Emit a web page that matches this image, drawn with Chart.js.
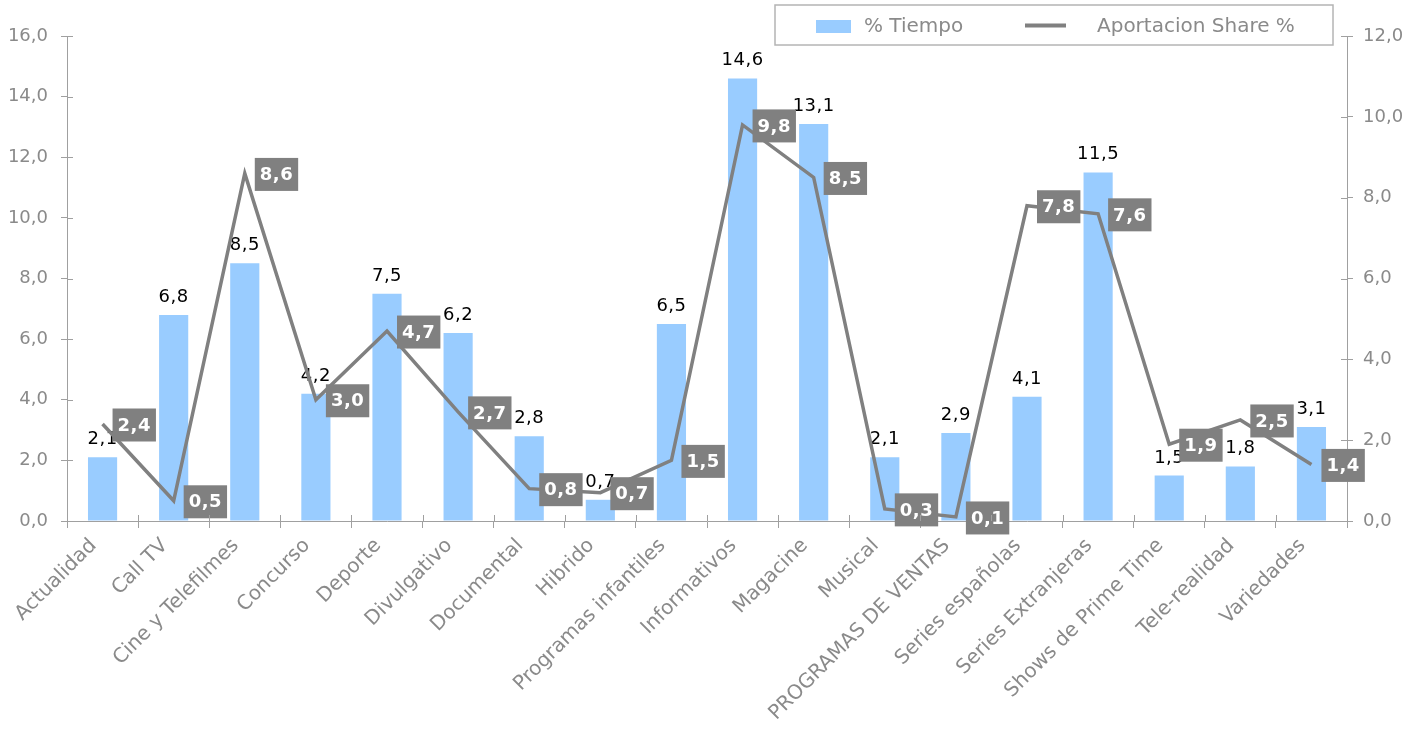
<!DOCTYPE html>
<html>
<head>
<meta charset="utf-8">
<script src="https://cdn.jsdelivr.net/npm/chart.js@4.4.1/dist/chart.umd.min.js"></script>
<style>
  html, body { margin: 0; padding: 0; background: #fff; }
  #chart { display: block; }
</style>
</head>
<body>
<canvas id="chart" width="1426" height="731"></canvas>
<script>
const categories = [
    "Actualidad", "Call TV", "Cine y Telefilmes", "Concurso", "Deporte",
    "Divulgativo", "Documental", "Hibrido", "Programas infantiles", "Informativos",
    "Magacine", "Musical", "PROGRAMAS DE VENTAS", "Series españolas",
    "Series Extranjeras", "Shows de Prime Time", "Tele-realidad", "Variedades"
];
const tiempo = [2.1, 6.8, 8.5, 4.2, 7.5, 6.2, 2.8, 0.7, 6.5, 14.6, 13.1, 2.1, 2.9, 4.1, 11.5, 1.5, 1.8, 3.1];
const share = [2.4, 0.5, 8.6, 3.0, 4.7, 2.7, 0.8, 0.7, 1.5, 9.8, 8.5, 0.3, 0.1, 7.8, 7.6, 1.9, 2.5, 1.4];

const FONT = "'DejaVu Sans', Verdana, sans-serif";
const GREY = "#808080";
const TEXT = "#8a8a8a";
const AXIS = "#a0a0a0";
const BLUE = "#99ccff";

const fmt = v => v.toFixed(1).replace(".", ",");

// value labels: black text over bars, grey boxes next to line points
const labelsPlugin = {
    id: "valueLabels",
    afterDatasetDraw(chart, args) {
        if (args.index !== 0) return;
        const ctx = chart.ctx;
        const meta = chart.getDatasetMeta(0);
        ctx.save();
        ctx.font = "18px " + FONT;
        ctx.letterSpacing = "0.5px";
        ctx.fillStyle = "#000";
        ctx.textAlign = "center";
        ctx.textBaseline = "alphabetic";
        meta.data.forEach((bar, i) => {
            ctx.fillText(fmt(tiempo[i]), bar.x, bar.y - 13);
        });
        ctx.restore();
    },
    afterDatasetsDraw(chart) {
        const ctx = chart.ctx;
        const meta = chart.getDatasetMeta(1);
        ctx.save();
        ctx.font = "bold 18px " + FONT;
        ctx.letterSpacing = "0.5px";
        ctx.textAlign = "center";
        ctx.textBaseline = "middle";
        meta.data.forEach((pt, i) => {
            const txt = fmt(share[i]);
            const w = ctx.measureText(txt).width + 10;
            const h = 33;
            const x = pt.x + 10;
            const y = pt.y + 1 - h / 2;
            ctx.fillStyle = GREY;
            ctx.fillRect(x, y, w, h);
            ctx.fillStyle = "#fff";
            ctx.fillText(txt, x + w / 2, y + h / 2 + 1);
        });
        ctx.restore();
    },
    afterDraw(chart) {
        const ctx = chart.ctx;
        ctx.save();
        // inner halves of the axis tick marks
        ctx.strokeStyle = AXIS;
        ctx.lineWidth = 1;
        const { x, y, y1 } = chart.scales;
        ctx.beginPath();
        y.ticks.forEach((t, i) => {
            const p = Math.round(y.getPixelForTick(i)) + 0.5;
            ctx.moveTo(y.right, p); ctx.lineTo(y.right + 6, p);
        });
        y1.ticks.forEach((t, i) => {
            const p = Math.round(y1.getPixelForTick(i)) + 0.5;
            ctx.moveTo(y1.left, p); ctx.lineTo(y1.left - 6, p);
        });
        for (let i = 0; i <= categories.length; i++) {
            const p = Math.round(x.left + i * x.width / categories.length) + 0.5;
            ctx.moveTo(p, x.top); ctx.lineTo(p, x.top - 6);
        }
        ctx.stroke();

        // boxed legend at the top right
        ctx.fillStyle = "#fff";
        ctx.fillRect(775, 5, 558, 40);
        ctx.strokeStyle = "#b4b4b4";
        ctx.lineWidth = 1.5;
        ctx.strokeRect(775, 5, 558, 40);
        ctx.fillStyle = BLUE;
        ctx.fillRect(816, 20, 35, 13);
        ctx.strokeStyle = GREY;
        ctx.lineWidth = 4;
        ctx.beginPath();
        ctx.moveTo(1025, 25.5);
        ctx.lineTo(1066, 25.5);
        ctx.stroke();
        ctx.fillStyle = TEXT;
        ctx.font = "20px " + FONT;
        ctx.textBaseline = "middle";
        ctx.fillText("% Tiempo", 864, 27);
        ctx.fillText("Aportacion Share %", 1097, 27);
        ctx.restore();
    }
};

new Chart(document.getElementById("chart"), {
    type: "bar",
    data: {
        labels: categories,
        datasets: [{
            label: "% Tiempo",
            data: tiempo,
            backgroundColor: BLUE,
            yAxisID: "y",
            categoryPercentage: 1.0,
            barPercentage: 0.41,
            order: 1
        }, {
            type: "line",
            label: "Aportacion Share %",
            data: share,
            borderColor: GREY,
            borderWidth: 3.5,
            pointRadius: 0,
            tension: 0,
            yAxisID: "y1",
            order: 0
        }]
    },
    options: {
        responsive: false,
        animation: false,
        layout: { padding: { top: 36, left: 0, right: 0, bottom: 0 } },
        plugins: {
            legend: { display: false },
            tooltip: { enabled: false }
        },
        scales: {
            x: {
                offset: true,
                grid: { drawOnChartArea: false, offset: true, tickLength: 7, color: AXIS },
                border: { color: AXIS, width: 1 },
                ticks: {
                    minRotation: 45,
                    maxRotation: 45,
                    autoSkip: false,
                    color: TEXT,
                    padding: 6,
                    labelOffset: -9,
                    font: { family: FONT, size: 20 }
                },
                afterFit(scale) { scale.height = 210; }
            },
            y: {
                position: "left",
                min: 0,
                max: 16,
                grid: { drawOnChartArea: false, tickLength: 6, color: AXIS },
                border: { color: AXIS, width: 1 },
                ticks: {
                    stepSize: 2,
                    color: TEXT,
                    padding: 13,
                    font: { family: FONT, size: 18 },
                    callback: v => fmt(v)
                },
                afterFit(scale) { scale.width = 67; }
            },
            y1: {
                position: "right",
                min: 0,
                max: 12,
                grid: { drawOnChartArea: false, tickLength: 6, color: AXIS },
                border: { color: AXIS, width: 1 },
                ticks: {
                    stepSize: 2,
                    color: TEXT,
                    padding: 10,
                    font: { family: FONT, size: 18 },
                    callback: v => fmt(v)
                },
                afterFit(scale) { scale.width = 79; }
            }
        }
    },
    plugins: [labelsPlugin]
});
</script>
</body>
</html>
